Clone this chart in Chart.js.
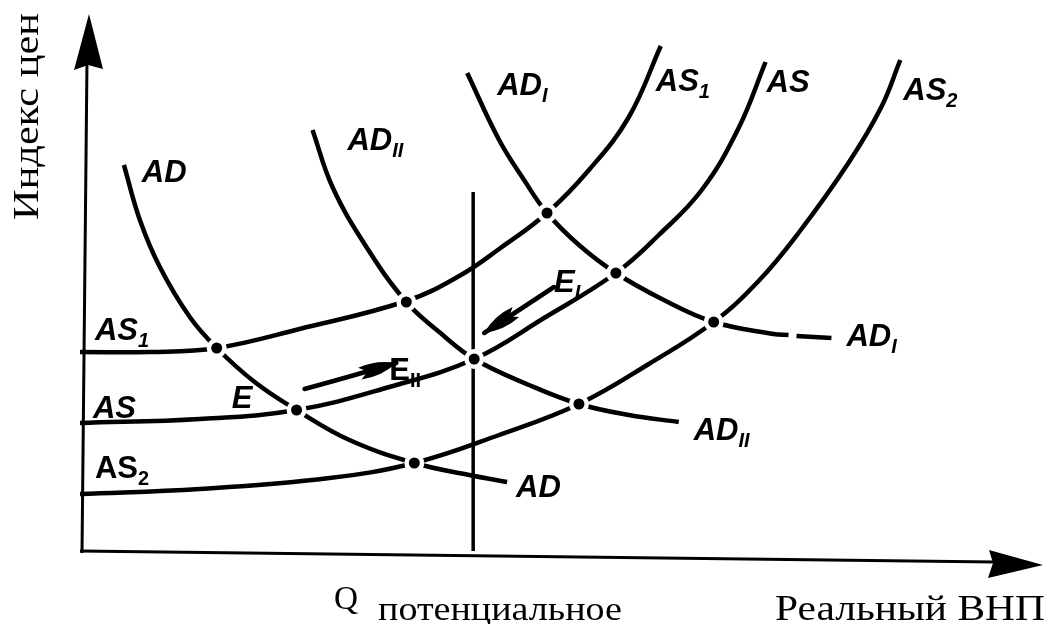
<!DOCTYPE html>
<html>
<head>
<meta charset="utf-8">
<script src="https://cdn.jsdelivr.net/npm/chart.js@4.4.0/dist/chart.umd.min.js"></script>
<style>
    html, body { margin: 0; padding: 0; background: #fff; }
    #wrap { width: 1048px; height: 624px; position: relative; }
</style>
</head>
<body>
<div id="wrap"><canvas id="chart"></canvas></div>
<script>
const adCurve   = [[44,386],[60,331],[80,284],[110,234],[137,203],[175,169],[217,141],[270,111],[335,88],[390,76],[428,69]];
const ad2Curve  = [[233,421],[253,364],[287,304],[327,249],[360,219],[395,192],[450,166],[500,147],[550,136],[600,129]];
const ad1Curve  = [[388,478],[420,411],[445,371],[468,338],[500,306],[537,278],[585,251],[635,229],[695,217],[710,216],[714,null],[718,215],[753,213]];
const as1Curve  = [[0,199],[70,199],[137,203],[220,222],[327,250],[380,275],[420,302],[468,338],[510,381],[550,434],[582,505]];
const asCurve   = [[0,128],[120,132],[217,141],[310,164],[395,192],[465,233],[537,278],[580,316],[623,361],[660,423],[687,489]];
const as2Curve  = [[0,57],[120,62],[250,73],[335,88],[420,116],[500,147],[570,187],[635,229],[680,270],[720,318],[770,388],[803,444],[822,491]];
const potentialQ = [[394,0],[394,359]];

// equilibrium points
const equilibria = [[137,203],[217,141],[327,249],[395,192],[335,88],[468,338],[537,278],[500,147],[635,229]];

// movement arrows (towards E_II)
const arrowRight = [[225,162],[262,172],[317,188]];
const arrowLeft  = [[475,264],[440,241],[405,218]];

// curve labels: text, subscript, x, y, italic
const curveLabels = [
    ['AD', '', 62, 369, true],
    ['AD', 'II', 268, 401, true],
    ['AD', 'I', 418, 456, true],
    ['AS', '1', 577, 460, true],
    ['AS', '', 688, 459, true],
    ['AS', '2', 825, 451, true],
    ['AS', '1', 15, 211, true],
    ['AS', '', 13, 133, true],
    ['AS', '2', 15, 73, false],
    ['E', '', 152, 143, true],
    ['E', 'II', 310, 171, false],
    ['E', 'I', 475, 259, true],
    ['AD', 'I', 768, 205, true],
    ['AD', 'II', 615, 111, true],
    ['AD', '', 437, 54, true]
];

const yTitle = 'Индекс цен';
const qText = 'Q';
const qSub = 'потенциальное';
const xTitle = 'Реальный ВНП';

function toPoints(arr) {
    return arr.map(p => ({ x: p[0], y: p[1] }));
}

function curve(data) {
    return {
        data: toPoints(data),
        showLine: true,
        borderColor: '#000',
        borderWidth: 4.5,
        pointRadius: 0,
        tension: 0.4,
        spanGaps: false,
        order: 3
    };
}

function fitText(ctx, text, x, y, width) {
    const w = ctx.measureText(text).width;
    ctx.save();
    ctx.translate(x, y);
    ctx.scale(width / w, 1);
    ctx.fillText(text, 0, 0);
    ctx.restore();
}

function drawArrow(ctx, xs, ys, pts) {
    const p = pts.map(q => [xs.getPixelForValue(q[0]), ys.getPixelForValue(q[1])]);
    ctx.lineWidth = 4.5;
    ctx.beginPath();
    ctx.moveTo(p[0][0], p[0][1]);
    ctx.quadraticCurveTo(p[1][0], p[1][1], p[2][0], p[2][1]);
    ctx.stroke();
    const a = p[2], b = p[1];
    const ang = Math.atan2(a[1] - b[1], a[0] - b[0]);
    const c = Math.cos(ang), s = Math.sin(ang);
    ctx.beginPath();
    ctx.moveTo(a[0], a[1]);
    ctx.quadraticCurveTo(a[0] - 18 * c - 9 * s, a[1] - 18 * s + 9 * c, a[0] - 38 * c - 6 * s, a[1] - 38 * s + 6 * c);
    ctx.lineTo(a[0] - 30 * c, a[1] - 30 * s);
    ctx.lineTo(a[0] - 38 * c + 6 * s, a[1] - 38 * s - 6 * c);
    ctx.quadraticCurveTo(a[0] - 18 * c + 9 * s, a[1] - 18 * s - 9 * c, a[0], a[1]);
    ctx.closePath();
    ctx.fill();
}

const diagram = {
    id: 'diagram',
    beforeDatasetsDraw(chart) {
        const ctx = chart.ctx;
        const a = chart.chartArea;
        ctx.save();
        ctx.strokeStyle = '#000';
        ctx.fillStyle = '#000';
        ctx.lineWidth = 3;
        // y axis with arrow
        ctx.beginPath();
        ctx.moveTo(a.left + 2, a.bottom + 2);
        ctx.lineTo(a.left + 7, 60);
        ctx.stroke();
        ctx.beginPath();
        ctx.moveTo(a.left + 9, 14);
        ctx.lineTo(a.left + 23, 69);
        ctx.lineTo(a.left + 8, 65);
        ctx.lineTo(a.left - 6, 70);
        ctx.closePath();
        ctx.fill();
        // x axis with arrow
        ctx.beginPath();
        ctx.moveTo(a.left, a.bottom);
        ctx.lineTo(995, 562);
        ctx.stroke();
        ctx.beginPath();
        ctx.moveTo(1043, 565);
        ctx.lineTo(988, 578);
        ctx.lineTo(993, 563);
        ctx.lineTo(989, 550);
        ctx.closePath();
        ctx.fill();
        ctx.restore();
    },
    afterDatasetsDraw(chart) {
        const ctx = chart.ctx;
        const xs = chart.scales.x, ys = chart.scales.y;
        ctx.save();
        ctx.fillStyle = '#000';
        ctx.strokeStyle = '#000';
        ctx.lineCap = 'round';
        drawArrow(ctx, xs, ys, arrowRight);
        drawArrow(ctx, xs, ys, arrowLeft);

        ctx.textBaseline = 'alphabetic';
        curveLabels.forEach(l => {
            const px = xs.getPixelForValue(l[2]);
            const py = ys.getPixelForValue(l[3]);
            const style = l[4] ? 'italic bold' : 'bold';
            ctx.font = style + ' 31px "Liberation Sans", Arial, sans-serif';
            ctx.fillText(l[0], px, py);
            if (l[1]) {
                const w = ctx.measureText(l[0]).width;
                ctx.font = style + ' 20px "Liberation Sans", Arial, sans-serif';
                ctx.fillText(l[1], px + w, py + 7);
            }
        });

        // axis titles
        ctx.font = '35px "Liberation Serif", "Times New Roman", serif';
        fitText(ctx, xTitle, 775, 620, 270);
        ctx.font = '34px "Liberation Serif", "Times New Roman", serif';
        fitText(ctx, qText, 334, 609, 24);
        fitText(ctx, qSub, 378, 620, 244);
        ctx.save();
        ctx.translate(38, 220);
        ctx.rotate(-Math.PI / 2);
        ctx.font = '36px "Liberation Serif", "Times New Roman", serif';
        fitText(ctx, yTitle, 0, 0, 207);
        ctx.restore();
        ctx.restore();
    }
};

new Chart(document.getElementById('chart'), {
    type: 'scatter',
    data: {
        datasets: [
            {
                data: toPoints(equilibria),
                pointRadius: 5.5,
                pointBackgroundColor: '#000',
                pointBorderWidth: 0,
                order: 0
            },
            {
                data: toPoints(equilibria),
                pointRadius: 10,
                pointBackgroundColor: '#fff',
                pointBorderWidth: 0,
                order: 1
            },
            {
                data: toPoints(potentialQ),
                showLine: true,
                borderColor: '#000',
                borderWidth: 3.5,
                pointRadius: 0,
                order: 2
            },
            curve(adCurve),
            curve(ad2Curve),
            curve(ad1Curve),
            curve(as1Curve),
            curve(asCurve),
            curve(as2Curve)
        ]
    },
    options: {
        responsive: true,
        maintainAspectRatio: false,
        animation: false,
        layout: { padding: { left: 80, right: 8, top: 10, bottom: 73 } },
        plugins: {
            legend: { display: false },
            tooltip: { enabled: false }
        },
        scales: {
            x: { type: 'linear', min: 0, max: 960, display: false },
            y: { type: 'linear', min: 0, max: 541, display: false }
        }
    },
    plugins: [diagram]
});
</script>
</body>
</html>
